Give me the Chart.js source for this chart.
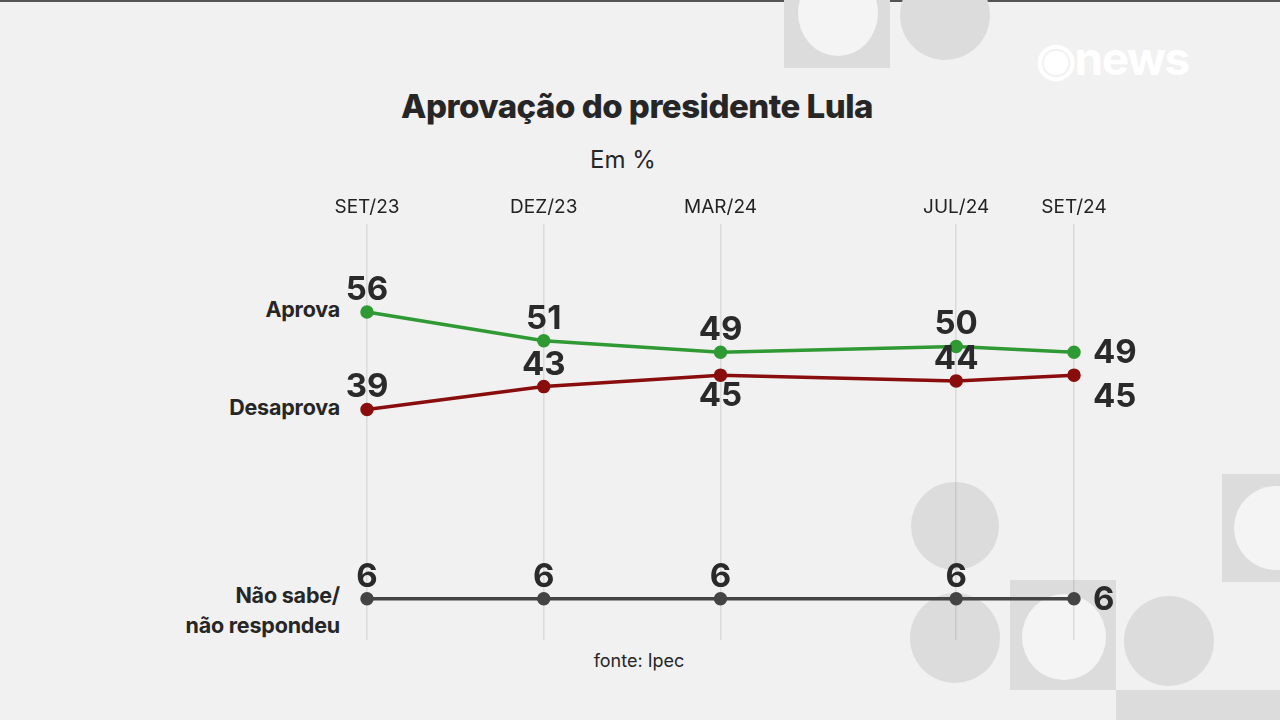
<!DOCTYPE html>
<html>
<head>
<meta charset="utf-8">
<script src="https://cdn.jsdelivr.net/npm/chart.js@4.4.1/dist/chart.umd.min.js"></script>
<style>
  html, body { margin: 0; padding: 0; }
  body { width: 1280px; height: 720px; background: #f1f1f1; position: relative; overflow: hidden; font-family: Inter, "Liberation Sans", sans-serif; color: #262626; }
  .deco { position: absolute; background: #dcdcdc; }
  .round { border-radius: 50%; }
  .hole { position: absolute; background: #f4f4f4; border-radius: 50%; }
  #topline { position: absolute; left: 0; top: 0; width: 1280px; height: 2px; background: #555; }
  #logo { position: absolute; left: 1036px; top: 30px; font: 700 46px Inter, sans-serif; color: #fff; letter-spacing: -1.5px; }
  #title { position: absolute; left: 0; width: 1274px; top: 86px; text-align: center; font-weight: 800; font-size: 33px; letter-spacing: -0.5px; }
  #sub { position: absolute; left: 0; width: 1246px; top: 145px; text-align: center; font-size: 24px; }
  .rowlab { position: absolute; right: 940px; text-align: right; font-weight: 700; font-size: 21.5px; line-height: 30px; letter-spacing: -0.2px; }
  #fonte { position: absolute; left: 0; width: 1278px; top: 650px; text-align: center; font-size: 18px; }
  canvas { position: absolute; left: 0; top: 0; }
</style>
</head>
<body>
<div id="topline"></div>
<div class="deco" style="left:784px;top:0;width:106px;height:68px;"><div class="hole" style="left:14px;top:-30px;width:80px;height:86px;"></div></div>
<div class="deco round" style="left:900px;top:-30px;width:90px;height:90px;"></div>
<div class="deco round" style="left:911px;top:482px;width:88px;height:88px;"></div>
<div class="deco" style="left:1222px;top:474px;width:58px;height:108px;"><div class="hole" style="left:12px;top:12px;width:84px;height:84px;"></div></div>
<div class="deco round" style="left:910px;top:593px;width:90px;height:90px;"></div>
<div class="deco" style="left:1010px;top:580px;width:106px;height:110px;"><div class="hole" style="left:12px;top:14px;width:84px;height:86px;"></div></div>
<div class="deco round" style="left:1124px;top:596px;width:90px;height:90px;"></div>
<div class="deco" style="left:1116px;top:690px;width:164px;height:30px;"></div>
<div id="logo">◉news</div>
<div id="title">Aprovação do presidente Lula</div>
<div id="sub">Em %</div>
<div class="rowlab" style="top:294px;">Aprova</div>
<div class="rowlab" style="top:392px;">Desaprova</div>
<div class="rowlab" style="top:580px;">Não sabe/<br>não respondeu</div>
<div id="fonte">fonte: Ipec</div>
<canvas id="chart" width="1280" height="720"></canvas>
<script>
// months since SET/23
const monthIdx = [0, 3, 6, 10, 12];
const tickLabels = ['SET/23', 'DEZ/23', 'MAR/24', 'JUL/24', 'SET/24'];

const aprova = [56, 51, 49, 50, 49];
const desaprova = [39, 43, 45, 44, 45];
const naoSabe = [6, 6, 6, 6, 6];

// where each value label sits relative to its point
const aprovaPlace = ['top', 'top', 'top', 'top', 'right'];
const desaprovaPlace = ['top', 'top', 'bottom', 'top', 'rightBottom'];
const naoSabePlace = ['top', 'top', 'top', 'top', 'right'];

function toPoints(vals) {
  return vals.map((v, i) => ({ x: monthIdx[i], y: v }));
}

const valueLabels = {
  id: 'valueLabels',
  afterDatasetsDraw(chart) {
    const ctx = chart.ctx;
    ctx.save();
    ctx.font = '700 33px Inter, sans-serif';
    ctx.fillStyle = '#2a2a2a';
    ctx.textBaseline = 'middle';
    chart.data.datasets.forEach((ds, di) => {
      const meta = chart.getDatasetMeta(di);
      meta.data.forEach((pt, i) => {
        const place = ds.places[i];
        let x = pt.x, y = pt.y;
        ctx.textAlign = 'center';
        if (place == 'top') { y -= 22; }
        else if (place == 'bottom') { y += 21; }
        else if (place == 'right') { x += 19; y += 1; ctx.textAlign = 'left'; }
        else if (place == 'rightBottom') { x += 19; y += 22; ctx.textAlign = 'left'; }
        ctx.fillText(String(ds.data[i].y), x, y);
      });
    });
    ctx.restore();
  }
};

const ds = (label, vals, color, places) => ({
  label: label,
  data: toPoints(vals),
  places: places,
  borderColor: color,
  backgroundColor: color,
  borderWidth: 3.5,
  pointRadius: 5,
  pointHoverRadius: 5,
  tension: 0,
  clip: false
});

new Chart(document.getElementById('chart'), {
  type: 'line',
  data: {
    datasets: [
      ds('Aprova', aprova, '#2f9a33', aprovaPlace),
      ds('Desaprova', desaprova, '#8a0d0d', desaprovaPlace),
      ds('Não sabe/não respondeu', naoSabe, '#444444', naoSabePlace)
    ]
  },
  options: {
    responsive: false,
    animation: false,
    events: [],
    layout: { padding: { left: 367, right: 206, top: 191, bottom: 80 } },
    plugins: { legend: { display: false }, tooltip: { enabled: false } },
    scales: {
      x: {
        type: 'linear',
        position: 'top',
        min: 0,
        max: 12,
        afterBuildTicks: (scale) => { scale.ticks = monthIdx.map(v => ({ value: v })); },
        ticks: {
          padding: 5,
          color: '#222',
          font: { family: 'Inter, sans-serif', size: 19 },
          callback: (v) => tickLabels[monthIdx.indexOf(v)]
        },
        grid: { color: 'rgba(0,0,0,0.09)', lineWidth: 1.5, drawTicks: false },
        border: { display: false }
      },
      y: {
        display: false,
        min: -1.2,
        max: 71.4
      }
    }
  },
  plugins: [valueLabels]
});
</script>
</body>
</html>
